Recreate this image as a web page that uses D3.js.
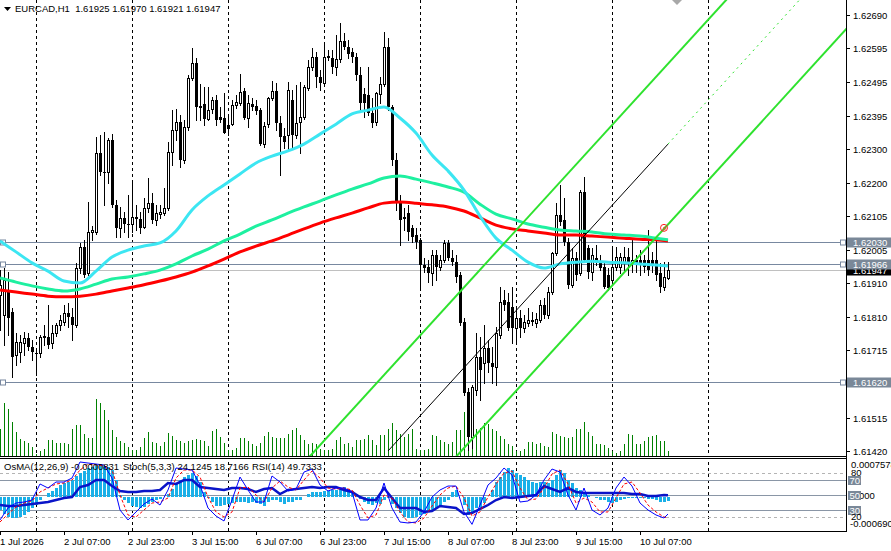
<!DOCTYPE html>
<html><head><meta charset="utf-8">
<script src="https://cdn.jsdelivr.net/npm/d3@7"></script>
<style>
body{margin:0;background:#fff}
svg{display:block}
text{font-family:"Liberation Sans",Arial,sans-serif;font-size:9.5px;white-space:pre}
</style>
</head><body>
<svg id="c" width="891" height="551"></svg>
<script>
// ---------------- DATA ----------------
const titleText = "EURCAD,H1  1.61925 1.61970 1.61921 1.61947";
const indTitles = ["OsMA(12,26,9) -0.0000831", "Stoch(5,3,3) 24.1245 18.7166", "RSI(14) 49.7333"];
const timeLabelBars = [0,16,32,48,64,80,96,112,128,144,160];
const timeLabels = ["1 Jul 2026","2 Jul 07:00","2 Jul 23:00","3 Jul 15:00","6 Jul 07:00","6 Jul 23:00","7 Jul 15:00","8 Jul 07:00","8 Jul 23:00","9 Jul 15:00","10 Jul 07:00"];
const dayStartBars = [9,33,57,81,105,129,153,177];
const priceTicks = [1.62690,1.62595,1.62495,1.62395,1.62300,1.62200,1.62105,1.62005,1.61910,1.61810,1.61715,1.61620,1.61515,1.61420];
const hLevels = [1.62030,1.61966,1.61620];
const bidPrice = 1.61947;

const open = [
1.61874,1.61816,1.61889,1.61825,1.61700,1.61708,1.61734,1.61749,1.61723,1.61705,
1.61705,1.61752,1.61752,1.61734,1.61764,1.61787,1.61796,1.61822,1.61810,1.61787,
1.61953,1.62014,1.61938,1.62058,1.62058,1.62288,1.62233,1.62233,1.62326,1.62137,
1.62070,1.62099,1.62081,1.62081,1.62102,1.62096,1.62072,1.62128,1.62142,1.62093,
1.62110,1.62113,1.62128,1.62291,1.62355,1.62378,1.62268,1.62364,1.62507,1.62550,
1.62422,1.62431,1.62387,1.62416,1.62442,1.62393,1.62390,1.62370,1.62372,1.62428,
1.62434,1.62469,1.62390,1.62431,1.62425,1.62413,1.62314,1.62372,1.62448,1.62469,
1.62375,1.62337,1.62340,1.62442,1.62340,1.62378,1.62393,1.62477,1.62539,1.62568,
1.62509,1.62492,1.62571,1.62565,1.62539,1.62562,1.62614,1.62597,1.62582,1.62568,
1.62515,1.62460,1.62457,1.62405,1.62378,1.62460,1.62489,1.62597,1.62422,1.62268,
1.62145,1.62099,1.62113,1.62070,1.62049,1.62035,1.61962,1.61956,1.61938,1.61991,
1.61956,1.61976,1.62026,1.61982,1.61970,1.61933,1.61796,1.61592,1.61461,1.61598,
1.61694,1.61676,1.61720,1.61676,1.61665,1.61758,1.61860,1.61854,1.61839,1.61778,
1.61807,1.61778,1.61793,1.61799,1.61793,1.61802,1.61845,1.61816,1.61883,1.61997,
1.62107,1.62093,1.62029,1.61904,1.61982,1.61938,1.62174,1.62011,1.61941,1.61982,
1.61970,1.61956,1.61933,1.61918,1.61956,1.61956,1.61970,1.61985,1.61970,1.61976,
1.61976,1.61976,1.61976,1.61976,1.61976,1.61938,1.61898,1.61925];
const high = [
1.61947,1.61953,1.61941,1.61837,1.61764,1.61758,1.61767,1.61764,1.61743,1.61714,
1.61758,1.61787,1.61845,1.61787,1.61793,1.61816,1.61845,1.61851,1.61837,1.61968,
1.62026,1.62035,1.62145,1.62075,1.62335,1.62340,1.62349,1.62332,1.62343,1.62151,
1.62131,1.62116,1.62166,1.62209,1.62137,1.62116,1.62157,1.62215,1.62172,1.62137,
1.62137,1.62186,1.62320,1.62413,1.62416,1.62399,1.62384,1.62515,1.62594,1.62565,
1.62489,1.62480,1.62480,1.62451,1.62457,1.62422,1.62463,1.62399,1.62442,1.62457,
1.62518,1.62477,1.62457,1.62448,1.62442,1.62419,1.62378,1.62451,1.62498,1.62492,
1.62396,1.62361,1.62495,1.62472,1.62486,1.62495,1.62486,1.62559,1.62594,1.62582,
1.62530,1.62608,1.62588,1.62588,1.62632,1.62667,1.62638,1.62617,1.62594,1.62579,
1.62539,1.62477,1.62539,1.62448,1.62466,1.62509,1.62640,1.62623,1.62428,1.62288,
1.62166,1.62128,1.62137,1.62078,1.62070,1.62040,1.61982,1.61976,1.62005,1.62005,
1.61991,1.62035,1.62035,1.62005,1.61991,1.61941,1.61807,1.61603,1.61612,1.61764,
1.61752,1.61787,1.61743,1.61723,1.61781,1.61898,1.61889,1.61880,1.61898,1.61839,
1.61831,1.61816,1.61837,1.61825,1.61822,1.61860,1.61866,1.61898,1.62000,1.62142,
1.62195,1.62157,1.62040,1.62011,1.62000,1.62180,1.62218,1.62020,1.62011,1.62020,
1.61991,1.61970,1.61953,1.62014,1.62014,1.61997,1.62014,1.62011,1.62035,1.61991,
1.62005,1.61991,1.62064,1.62000,1.62035,1.61968,1.61970,1.61970];
const low = [
1.61772,1.61729,1.61758,1.61635,1.61670,1.61679,1.61700,1.61714,1.61685,1.61641,
1.61694,1.61729,1.61720,1.61720,1.61755,1.61772,1.61787,1.61781,1.61743,1.61781,
1.61938,1.61927,1.61933,1.62035,1.62052,1.62224,1.62137,1.62201,1.62131,1.62043,
1.62043,1.62058,1.62043,1.62058,1.62064,1.62055,1.62070,1.62116,1.62084,1.62078,
1.62099,1.62107,1.62122,1.62253,1.62326,1.62247,1.62259,1.62355,1.62501,1.62384,
1.62384,1.62370,1.62384,1.62405,1.62370,1.62378,1.62346,1.62340,1.62370,1.62419,
1.62428,1.62387,1.62364,1.62413,1.62402,1.62311,1.62305,1.62364,1.62442,1.62355,
1.62224,1.62303,1.62297,1.62303,1.62332,1.62288,1.62387,1.62472,1.62530,1.62480,
1.62472,1.62486,1.62559,1.62521,1.62515,1.62553,1.62591,1.62565,1.62553,1.62501,
1.62413,1.62393,1.62399,1.62364,1.62370,1.62434,1.62483,1.62413,1.62253,1.62122,
1.62020,1.62064,1.62035,1.62029,1.62011,1.61889,1.61941,1.61912,1.61904,1.61918,
1.61947,1.61970,1.61976,1.61962,1.61912,1.61787,1.61583,1.61423,1.61429,1.61583,
1.61568,1.61618,1.61650,1.61618,1.61612,1.61749,1.61831,1.61772,1.61734,1.61734,
1.61752,1.61767,1.61784,1.61787,1.61781,1.61796,1.61807,1.61807,1.61877,1.61991,
1.62078,1.62020,1.61895,1.61898,1.61918,1.61933,1.61970,1.61924,1.61918,1.61962,
1.61947,1.61895,1.61889,1.61912,1.61947,1.61938,1.61947,1.61933,1.61941,1.61941,
1.61933,1.61941,1.61933,1.61941,1.61918,1.61883,1.61889,1.61921];
const close = [
1.61904,1.61918,1.61807,1.61694,1.61737,1.61737,1.61749,1.61723,1.61708,1.61702,
1.61752,1.61755,1.61729,1.61764,1.61787,1.61802,1.61822,1.61810,1.61787,1.61953,
1.62014,1.61933,1.62058,1.62064,1.62288,1.62233,1.62233,1.62326,1.62137,1.62070,
1.62099,1.62081,1.62080,1.62102,1.62096,1.62070,1.62128,1.62142,1.62093,1.62113,
1.62116,1.62128,1.62291,1.62355,1.62378,1.62268,1.62364,1.62507,1.62550,1.62422,
1.62425,1.62387,1.62413,1.62442,1.62384,1.62384,1.62346,1.62358,1.62428,1.62437,
1.62466,1.62390,1.62434,1.62422,1.62410,1.62314,1.62367,1.62448,1.62469,1.62375,
1.62335,1.62320,1.62472,1.62340,1.62375,1.62393,1.62480,1.62539,1.62568,1.62509,
1.62492,1.62568,1.62565,1.62539,1.62562,1.62614,1.62597,1.62576,1.62568,1.62515,
1.62434,1.62434,1.62405,1.62375,1.62463,1.62489,1.62597,1.62422,1.62268,1.62145,
1.62093,1.62102,1.62058,1.62043,1.62029,1.61962,1.61953,1.61938,1.61991,1.61956,
1.61976,1.62026,1.61982,1.61970,1.61927,1.61793,1.61589,1.61461,1.61606,1.61694,
1.61656,1.61720,1.61676,1.61665,1.61764,1.61854,1.61845,1.61778,1.61778,1.61807,
1.61778,1.61796,1.61802,1.61802,1.61804,1.61845,1.61816,1.61883,1.61997,1.62107,
1.62087,1.62029,1.61904,1.61982,1.61933,1.62174,1.61976,1.61941,1.61991,1.61970,
1.61953,1.61898,1.61895,1.61956,1.61985,1.61985,1.61985,1.61968,1.61976,1.61962,
1.61962,1.61956,1.61947,1.61962,1.61933,1.61898,1.61927,1.61947];
const volume = [
1350,2650,2350,1700,1200,850,750,650,450,100,
250,350,800,800,650,650,650,600,1350,1550,
1550,1100,900,900,2850,2650,2300,1800,1300,950,
750,650,450,300,300,450,900,1200,700,650,
500,700,1150,1000,800,750,650,750,800,850,
800,750,500,1250,1350,950,650,300,300,400,
900,900,750,600,500,650,1000,1200,950,900,
900,900,1100,1300,1400,1050,800,600,650,600,
350,300,300,350,800,950,600,650,450,800,
800,850,1050,800,550,1050,1050,1350,1650,1300,
1100,950,1100,1350,350,300,300,350,1050,1000,
800,700,600,700,1300,1300,2200,1950,1850,1350,
1400,1650,1600,1350,1250,1000,850,600,500,250,
250,350,700,700,600,650,500,450,1200,1100,
1000,950,900,950,1350,1350,1700,1200,1000,600,
600,550,400,250,150,250,600,1100,1050,600,
600,750,950,1000,1050,750,750,250];

// moving averages, read every 4 bars
const maBars = [0,4,8,12,16,20,24,28,32,36,40,44,48,52,56,60,64,68,72,76,80,84,88,92,96,100,104,108,112,116,120,124,128,132,136,140,144,148,152,156,160,164,167];
const maCyan = [1.62032,1.62000,1.61968,1.61944,1.61915,1.61909,1.61944,1.61985,1.62005,1.62017,
1.62026,1.62061,1.62122,1.62163,1.62195,1.62227,1.62259,1.62279,1.62294,1.62314,
1.62343,1.62372,1.62402,1.62413,1.62422,1.62390,1.62346,1.62282,1.62236,1.62180,
1.62104,1.62040,1.62005,1.61970,1.61953,1.61965,1.61970,1.61973,1.61970,1.61968,
1.61965,1.61962,1.61959];
const maGreen = [1.61924,1.61912,1.61901,1.61892,1.61886,1.61892,1.61906,1.61921,1.61927,1.61936,
1.61947,1.61965,1.61988,1.62008,1.62032,1.62052,1.62075,1.62093,1.62113,1.62131,
1.62148,1.62166,1.62183,1.62198,1.62215,1.62221,1.62212,1.62201,1.62189,1.62174,
1.62139,1.62110,1.62096,1.62081,1.62072,1.62064,1.62061,1.62058,1.62052,1.62049,
1.62046,1.62040,1.62035];
const maRed = [1.61889,1.61883,1.61877,1.61871,1.61869,1.61871,1.61877,1.61886,1.61895,1.61904,
1.61915,1.61927,1.61941,1.61959,1.61979,1.62000,1.62017,1.62032,1.62049,1.62067,
1.62084,1.62099,1.62113,1.62128,1.62142,1.62145,1.62142,1.62137,1.62131,1.62119,
1.62099,1.62078,1.62067,1.62061,1.62055,1.62049,1.62049,1.62046,1.62043,1.62040,
1.62037,1.62035,1.62032];

// channel (base line anchors + half width)
const chanStart = {bar: 97, price: 1.61420};
const chanEnd = {bar: 167, price: 1.62314};
const chanHalfWidth = 0.00234;
const marker = {bar: 166, price: 1.62070};

// oscillators
const osma = [
-0.000262,-0.000341,-0.000400,-0.000420,-0.000420,-0.000400,-0.000361,-0.000302,-0.000223,-0.000164,
-0.000065,-0.000006,0.000073,0.000112,0.000172,0.000231,0.000270,0.000290,0.000329,0.000408,
0.000467,0.000507,0.000566,0.000586,0.000625,0.000625,0.000605,0.000586,0.000527,0.000329,
0.000034,-0.000065,-0.000124,-0.000183,-0.000203,-0.000223,-0.000203,-0.000144,-0.000105,-0.000065,
-0.000045,-0.000006,0.000053,0.000152,0.000250,0.000329,0.000389,0.000428,0.000467,0.000408,
0.000290,0.000093,-0.000026,-0.000105,-0.000183,-0.000183,-0.000164,-0.000144,-0.000124,-0.000105,
-0.000105,-0.000105,-0.000124,-0.000105,-0.000124,-0.000144,-0.000183,-0.000105,-0.000065,-0.000065,
-0.000105,-0.000144,-0.000105,-0.000105,-0.000065,-0.000065,-0.000006,0.000053,0.000093,0.000093,
0.000093,0.000112,0.000112,0.000132,0.000132,0.000172,0.000191,0.000152,0.000112,0.000053,
-0.000045,-0.000105,-0.000144,-0.000164,-0.000124,-0.000144,-0.000065,-0.000026,-0.000144,-0.000223,
-0.000321,-0.000400,-0.000420,-0.000420,-0.000400,-0.000361,-0.000341,-0.000302,-0.000262,-0.000223,
-0.000164,-0.000105,-0.000065,0.000093,0.000132,-0.000006,-0.000164,-0.000361,-0.000321,-0.000223,
-0.000203,-0.000124,-0.000006,0.000132,0.000290,0.000389,0.000487,0.000566,0.000527,0.000467,
0.000428,0.000389,0.000329,0.000290,0.000270,0.000290,0.000290,0.000270,0.000329,0.000428,
0.000527,0.000467,0.000329,0.000270,0.000172,0.000132,0.000093,0.000034,-0.000006,-0.000026,
-0.000065,-0.000065,-0.000105,-0.000124,-0.000105,-0.000065,-0.000045,-0.000026,-0.000026,-0.000026,
-0.000026,-0.000026,-0.000045,-0.000045,-0.000065,-0.000105,-0.000105,-0.0000831];

const oscBars = [0,2,4,6,8,10,12,14,16,18,20,22,24,26,28,30,32,34,36,38,40,42,44,46,48,50,52,54,56,58,60,62,64,66,68,70,72,74,76,78,80,82,84,86,88,90,92,94,96,98,100,102,104,106,108,110,112,114,116,118,120,122,124,126,128,130,132,134,136,138,140,142,144,146,148,150,152,154,156,158,160,162,164,166,167];
const stochMain = [16.0,32.3,39.1,40.5,43.2,65.1,59.6,67.8,67.8,73.2,
95.1,93.7,92.3,91.0,73.2,29.6,16.0,26.9,37.8,44.6,
36.4,56.9,86.9,85.5,84.2,63.7,32.3,21.4,14.6,43.2,
74.6,56.9,40.5,40.5,76.0,67.8,55.5,58.2,81.4,85.5,
63.7,55.5,59.6,59.6,54.2,16.0,16.0,32.3,66.4,32.3,
13.2,11.9,13.2,26.9,47.3,56.9,62.3,62.3,26.9,10.0,
36.4,63.7,73.2,86.9,77.3,40.5,41.9,50.1,70.5,85.5,
81.4,50.1,29.6,59.6,29.6,22.8,32.3,59.6,74.6,62.3,
39.1,29.6,22.8,18.7,24.1245];
const stochSignal = [13.2,24.1,33.7,39.1,41.9,54.2,59.6,65.1,66.4,70.5,
84.2,92.3,91.0,89.6,84.2,50.1,22.8,20.1,29.6,39.1,
40.5,46.0,73.2,84.2,84.2,74.6,47.3,26.9,20.1,26.9,
59.6,61.0,50.1,40.5,59.6,69.2,61.0,56.9,70.5,82.8,
73.2,59.6,58.2,59.6,56.9,36.4,18.7,22.8,50.1,46.0,
26.9,13.2,11.9,18.7,35.0,50.1,59.6,62.3,46.0,21.4,
26.9,47.3,65.1,80.1,82.8,59.6,43.2,44.6,59.6,78.7,
84.2,65.1,39.1,46.0,40.5,26.9,26.9,46.0,65.1,67.8,
52.8,36.4,26.9,20.1,18.7166];
const rsi = [36.4,35.1,35.1,36.4,37.8,39.1,40.5,43.2,46.0,47.3,
61.0,63.7,70.5,70.5,62.3,55.5,54.2,54.2,55.5,55.5,
56.9,66.4,65.1,70.5,70.5,61.0,59.6,58.2,56.9,59.6,
59.6,58.2,54.2,58.2,59.6,51.4,56.9,58.2,59.6,61.0,
59.6,61.0,61.0,56.9,54.2,47.3,43.2,43.2,59.6,46.0,
32.3,32.3,32.3,26.9,28.2,35.1,33.7,32.3,24.1,25.5,
31.0,36.4,43.2,47.3,46.0,47.3,48.7,50.1,62.3,58.2,
54.2,59.6,54.2,52.8,52.8,52.8,52.8,52.8,52.8,51.4,
51.4,48.7,48.7,50.1,49.7333];
const oscLevelsSolid = [70,50,30];
const oscLevelsDashed = [80,20];

// ---------------- DRAWING ----------------
const svg = d3.select("#c");
const plotR = 846, mainB = 456, indT = 459, indB = 531.7;

const x = d3.scaleLinear().domain([0,167]).range([0,668]);
const y = d3.scaleLinear().domain([1.61420,1.62690]).range([451,15]);
const yVol = d3.scaleLinear().domain([0,3000]).range([mainB,mainB-60]);
const yOsc = d3.scaleLinear().domain([0,100]).range([indB,458.4]);
const yOsma = d3.scaleLinear().domain([-0.000690,0.0007578]).range([indB,458.3]);

const defs = svg.append("defs");
defs.append("clipPath").attr("id","cm").append("rect").attr("x",0).attr("y",0).attr("width",plotR).attr("height",mainB);
defs.append("clipPath").attr("id","ci").append("rect").attr("x",0).attr("y",indT).attr("width",plotR).attr("height",indB-indT);

const gMain = svg.append("g").attr("clip-path","url(#cm)");
const gInd = svg.append("g").attr("clip-path","url(#ci)");

// vertical day grid
[gMain,gInd].forEach(g=>{
  g.selectAll(null).data(dayStartBars).enter().append("line")
   .attr("x1",d=>x(d)+0.5).attr("x2",d=>x(d)+0.5).attr("y1",0).attr("y2",551)
   .attr("stroke","#000").attr("stroke-dasharray","3,3").attr("stroke-width",1);
});

// volumes
gMain.selectAll(null).data(volume).enter().append("line")
  .attr("x1",(d,i)=>x(i)+0.5).attr("x2",(d,i)=>x(i)+0.5)
  .attr("y1",mainB).attr("y2",d=>yVol(d))
  .attr("stroke","#008000").attr("stroke-width",1).attr("shape-rendering","crispEdges");

// horizontal level lines
const lvlColor = "#7888a0";
hLevels.forEach(p=>{
  const yy = Math.round(y(p))+0.5;
  gMain.append("line").attr("x1",0).attr("x2",plotR).attr("y1",yy).attr("y2",yy).attr("stroke",lvlColor).attr("stroke-width",1);
  gMain.append("rect").attr("x",0.5).attr("y",yy-2.5).attr("width",5).attr("height",5).attr("fill","#fff").attr("stroke",lvlColor);
  gMain.append("rect").attr("x",840.5).attr("y",yy-2.5).attr("width",5).attr("height",5).attr("fill","#fff").attr("stroke",lvlColor);
});
// bid line
{
  const yy = Math.round(y(bidPrice))+0.5;
  gMain.append("line").attr("x1",0).attr("x2",plotR).attr("y1",yy).attr("y2",yy).attr("stroke","#c0c0c0").attr("stroke-width",1);
}

// candles
const idx = d3.range(open.length);
const cg = gMain.append("g").attr("shape-rendering","crispEdges");
cg.selectAll(null).data(idx).enter().append("line")
  .attr("x1",i=>x(i)+0.5).attr("x2",i=>x(i)+0.5)
  .attr("y1",i=>Math.round(y(high[i]))).attr("y2",i=>Math.round(y(low[i]))+1)
  .attr("stroke","#000");
cg.selectAll(null).data(idx).enter().append("rect")
  .each(function(i){
    const top = Math.round(y(Math.max(open[i],close[i])));
    const bot = Math.round(y(Math.min(open[i],close[i])));
    const bull = close[i] >= open[i];
    const sel = d3.select(this);
    if (bull) {
      sel.attr("x",x(i)-0.5).attr("y",top+0.5).attr("width",2).attr("height",Math.max(bot-top,0.01))
         .attr("fill","#fff").attr("stroke","#000");
    } else {
      sel.attr("x",x(i)-1).attr("y",top).attr("width",3).attr("height",Math.max(bot-top,1))
         .attr("fill","#000");
    }
  });

// moving averages
const maLine = arr => d3.line().x((d,k)=>x(maBars[k])).y(d=>y(d)).curve(d3.curveMonotoneX)(arr);
gMain.append("path").attr("d",maLine(maRed)).attr("fill","none").attr("stroke","#ff0000").attr("stroke-width",3);
gMain.append("path").attr("d",maLine(maGreen)).attr("fill","none").attr("stroke","#1ef0a0").attr("stroke-width",3);
gMain.append("path").attr("d",maLine(maCyan)).attr("fill","none").attr("stroke","#3ce6f2").attr("stroke-width",3);

// channel
const slope = (chanEnd.price - chanStart.price)/(chanEnd.bar - chanStart.bar);
const chanP = (b,off) => chanStart.price + (b - chanStart.bar)*slope + off;
const green = "#2ee22e";
[chanHalfWidth,-chanHalfWidth].forEach(off=>{
  gMain.append("line").attr("x1",x(40)).attr("y1",y(chanP(40,off))).attr("x2",x(240)).attr("y2",y(chanP(240,off)))
    .attr("stroke",green).attr("stroke-width",2);
});
gMain.append("line").attr("x1",x(chanStart.bar)).attr("y1",y(chanStart.price)).attr("x2",x(chanEnd.bar)).attr("y2",y(chanEnd.price))
  .attr("stroke","#000").attr("stroke-width",1);
gMain.append("line").attr("x1",x(chanEnd.bar)).attr("y1",y(chanEnd.price)).attr("x2",x(240)).attr("y2",y(chanP(240,0)))
  .attr("stroke",green).attr("stroke-width",1).attr("stroke-dasharray","2,4");

// marker
gMain.append("circle").attr("cx",x(marker.bar)).attr("cy",y(marker.price)).attr("r",3.5).attr("fill","none").attr("stroke","#ff2020").attr("stroke-width",1);
gMain.append("circle").attr("cx",x(marker.bar)+0.5).attr("cy",y(marker.price)+0.5).attr("r",1.2).attr("fill","none").attr("stroke","#ff2020").attr("stroke-width",0.8);

// shift marker
svg.append("path").attr("d","M672,0 L682,0 L677,5 Z").attr("fill","#a8a8a8");

// ---------- indicator window ----------
oscLevelsDashed.forEach(v=>{
  const yy = Math.round(yOsc(v))+0.5;
  gInd.append("line").attr("x1",0).attr("x2",plotR).attr("y1",yy).attr("y2",yy).attr("stroke","#b4b4b4").attr("stroke-dasharray","3,3");
});
oscLevelsSolid.forEach(v=>{
  const yy = Math.round(yOsc(v))+0.5;
  gInd.append("line").attr("x1",0).attr("x2",plotR).attr("y1",yy).attr("y2",yy).attr("stroke","#8a96a6");
});
gInd.append("g").attr("shape-rendering","crispEdges").selectAll(null).data(osma).enter().append("rect")
  .attr("x",(d,i)=>x(i)-1).attr("width",3)
  .attr("y",d=>Math.min(yOsma(d),yOsma(0))).attr("height",d=>Math.max(Math.abs(yOsma(d)-yOsma(0)),0.5))
  .attr("fill","#1ab0e8");
const oscLine = d3.line().x((d,k)=>x(oscBars[k])).y(d=>yOsc(d));
gInd.append("path").attr("d",oscLine(rsi)).attr("fill","none").attr("stroke","#0a14c8").attr("stroke-width",2.5);
gInd.append("path").attr("d",oscLine(stochSignal)).attr("fill","none").attr("stroke","#ff0000").attr("stroke-width",1).attr("stroke-dasharray","3,2");
gInd.append("path").attr("d",oscLine(stochMain)).attr("fill","none").attr("stroke","#0000ff").attr("stroke-width",1);

// frames
svg.append("line").attr("x1",0).attr("x2",plotR).attr("y1",mainB+0.5).attr("y2",mainB+0.5).attr("stroke","#000");
svg.append("line").attr("x1",0).attr("x2",plotR).attr("y1",indT-0.5).attr("y2",indT-0.5).attr("stroke","#000");
svg.append("line").attr("x1",0).attr("x2",plotR).attr("y1",531.5).attr("y2",531.5).attr("stroke","#000");
svg.append("line").attr("x1",plotR+0.5).attr("x2",plotR+0.5).attr("y1",0).attr("y2",532).attr("stroke","#000");

// price axis
priceTicks.forEach(p=>{
  const yy = Math.round(y(p))+0.5;
  svg.append("line").attr("x1",plotR).attr("x2",plotR+4).attr("y1",yy).attr("y2",yy).attr("stroke","#000");
  svg.append("text").attr("x",853).attr("y",yy+3.5).text(p.toFixed(5));
});
const tag = (p,bg) => {
  const yy = Math.round(y(p))+0.5;
  svg.append("rect").attr("x",847).attr("y",yy-5).attr("width",44).attr("height",10).attr("fill",bg);
  svg.append("text").attr("x",853).attr("y",yy+3.5).attr("fill","#fff").text(p.toFixed(5));
};
tag(bidPrice,"#000");
hLevels.forEach(p=>tag(p,"#7a8898"));

// indicator axis
svg.append("text").attr("x",851).attr("y",468).text("0.0007578");
svg.append("text").attr("x",851).attr("y",Math.round(yOsc(80))+3).text("80");
svg.append("text").attr("x",851).attr("y",Math.round(yOsma(0))+2).text("0.000");
oscLevelsSolid.forEach(v=>{
  const yy = Math.round(yOsc(v))+0.5;
  svg.append("rect").attr("x",848).attr("y",yy-4.5).attr("width",13).attr("height",9).attr("fill","#7a8898");
  svg.append("text").attr("x",849.5).attr("y",yy+3.5).attr("fill","#fff").text(String(v));
});
svg.append("text").attr("x",851).attr("y",Math.round(yOsc(20))+3).text("20");
svg.append("text").attr("x",850).attr("y",527).text("-0.000690");

// time axis
timeLabelBars.forEach((b,k)=>{
  svg.append("line").attr("x1",x(b)+0.5).attr("x2",x(b)+0.5).attr("y1",531).attr("y2",535).attr("stroke","#000");
  svg.append("text").attr("x",x(b)).attr("y",545).text(timeLabels[k]);
});

// titles
svg.append("path").attr("d","M4,7 L11,7 L7.5,11 Z").attr("fill","#000");
svg.append("text").attr("x",15).attr("y",12).text(titleText);
const indX = [4,123,252];
indTitles.forEach((t,k)=>svg.append("text").attr("x",indX[k]).attr("y",470).text(t));
</script>
</body></html>
